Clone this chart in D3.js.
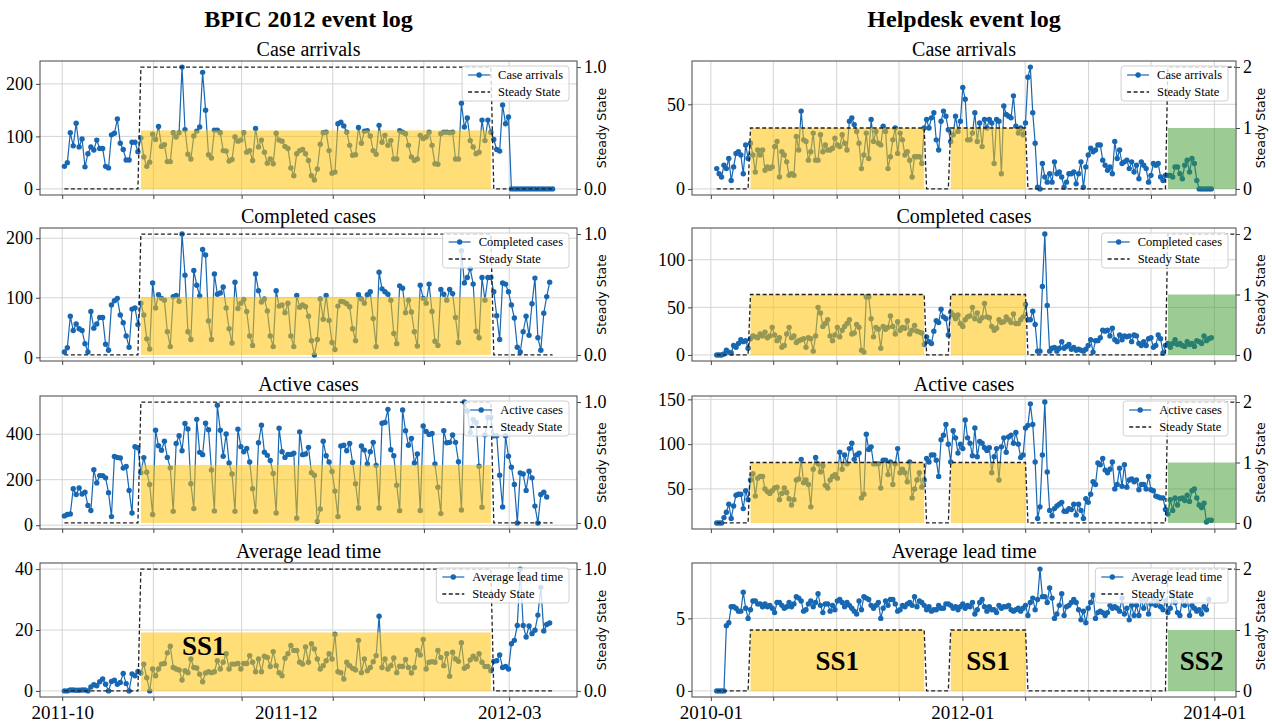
<!DOCTYPE html>
<html>
<head>
<meta charset="utf-8">
<script src="https://cdn.jsdelivr.net/npm/d3@7"></script>
<style>
  body { margin: 0; background: #fff; }
  text { font-family: "Liberation Serif", "Times New Roman", serif; fill: #000; }
</style>
</head>
<body>
<script>
var width = 1272, height = 725;

// ---- BPIC 2012 (daily) ----
var bpicArrivals = [43,50,107,82,125,80,95,42,67,80,74,93,77,77,43,40,103,106,133,87,75,55,55,89,89,71,
  97,61,43,51,104,94,119,81,84,52,52,107,99,107,232,113,66,57,101,110,118,222,150,65,59,112,112,107,73,72,53,56,99,91,93,107,70,73,54,115,80,93,70,49,57,48,106,93,91,81,77,40,25,67,73,
  75,67,54,25,17,38,85,107,108,73,30,32,124,127,120,108,83,64,65,117,87,110,111,101,73,66,121,89,102,83,92,57,57,111,108,105,83,61,54,57,102,96,99,108,83,48,47,105,108,108,107,108,57,57,163,118,135,92,80,67,70,131,92,131,108,94,75,72,160,124,137,
  0,0,0,0,0,0,0,0,0,0,0,0,0,0,0];
var bpicCompleted = [9,16,69,45,56,48,45,23,9,77,49,56,67,67,22,12,88,95,99,71,58,36,17,81,83,55,
  91,71,31,14,125,83,105,99,96,43,18,102,104,94,207,138,43,30,146,121,103,181,172,61,30,140,106,108,118,83,48,24,126,82,91,97,77,36,20,140,112,93,98,78,36,18,112,86,88,75,91,36,18,104,84,88,85,69,28,4,30,98,64,104,62,25,13,86,94,93,90,85,48,28,105,98,91,105,110,65,18,143,115,110,106,96,40,23,120,116,75,96,76,43,19,121,99,91,123,77,27,20,114,106,96,114,107,67,25,179,125,134,149,123,44,33,134,96,134,134,110,
  70,30,125,123,110,88,66,17,9,43,69,37,90,133,33,12,74,102,126];
var bpicActive = [41,47,49,160,135,164,137,145,87,65,244,186,218,218,208,143,38,302,298,295,251,258,153,54,345,340,231,
  297,233,179,47,417,349,329,369,298,252,61,359,393,327,447,423,182,73,465,320,310,448,419,243,63,527,417,303,401,273,225,61,422,345,323,337,278,160,60,362,439,321,307,284,227,54,426,323,298,311,311,316,31,410,310,313,342,231,220,17,71,369,305,278,236,150,38,348,351,327,359,276,182,76,348,330,269,323,364,263,76,448,451,509,332,305,176,64,506,415,351,381,273,313,65,436,412,399,403,269,167,51,415,362,364,396,364,279,67,541,502,407,465,451,259,79,397,473,473,393,393,
  220,80,393,303,255,179,10,230,225,153,237,208,84,10,135,145,124];
var bpicLead = [0,0,0.3,0.3,0.2,0.2,0.3,0.3,0,1.3,2,1.7,3,3.9,2.2,0,3.1,3.5,2.2,2.8,5.7,2.4,0,5.6,5,6.4,
  5.9,8.8,4.3,0,7.2,5,7.2,8.8,9,12.5,14.7,7.7,7.2,6.9,3.6,6.6,6,10.5,7.7,7.5,5.5,3,5.9,6.3,6,6.3,9.9,7.2,9.4,12.2,7.2,8.8,8.8,9,7.2,9,9,11.6,9.4,6.3,10.5,6.3,11.4,11,8,12.9,8.3,6,5,10.7,12.2,14.9,13.3,13.3,9.4,8.8,14.4,9.4,15.5,13.8,10.5,7.2,8.3,9.9,12.2,10.5,18.6,6.3,6,3.9,9.4,8.3,7.4,6.9,16.6,6,10.5,6.6,7.7,9.6,11.6,24.5,7.7,10.5,7.2,8.3,10.8,6,8.1,8,10.3,7.7,5.9,7.7,13.3,11.8,16.9,7.2,9.4,9.6,9.4,13.3,11,8.3,12.2,4.8,12.7,10.5,9.7,15.8,7.4,8,10.2,11.4,10.5,12.2,9.4,8,8,6.6,
  9.7,9.9,11.8,7.7,8,7.2,15.5,16.6,21.5,40,21.5,17.7,21.3,18.8,19.9,24.9,34,19.7,21.8,22.3];
var bpicSteady = [[0, 26], [1, 120], [0, 21]];   // [state, number of days]
var bpicGrid = ["2011-10-01", "2011-11-01", "2011-12-01", "2012-01-01", "2012-02-01", "2012-03-01"];
var bpicLabels = ["2011-10-01", "2011-12-16", "2012-03-01"];

// ---- Helpdesk (weekly) ----
var helpArrivals = [12,9,7,14,12,18,5,13,21,22,20,9,26,18,27,20,10,23,20,23,11,13,12,13,25,28,7,22,20,16,
  8,9,8,31,23,46,29,28,17,22,33,17,17,32,22,26,23,23,24,30,26,25,32,27,23,40,42,38,34,27,
  12,20,33,18,41,28,34,27,26,37,34,12,19,29,36,21,33,29,20,22,17,7,19,19,19,15,36,41,36,42,
  45,29,23,40,46,43,35,28,32,43,34,40,60,53,29,29,33,45,28,39,25,41,36,41,39,15,41,40,9,49,
  44,43,42,55,37,33,36,32,39,66,72,45,27,1,0,15,7,4,9,4,16,9,10,7,1,4,9,9,10,3,
  9,16,1,13,20,24,22,23,26,26,17,14,11,13,9,28,18,23,15,16,17,12,16,10,14,6,16,14,12,4,
  8,15,14,15,7,5,8,8,8,7,13,13,9,6,14,17,10,18,15,5,0,0,0,0,0,0];
var helpCompleted = [0,0,0,1,5,3,2,10,8,12,16,14,15,7,17,20,19,18,22,20,24,18,20,29,21,15,18,8,10,22,
  29,18,20,13,15,16,17,8,18,17,4,20,50,44,30,33,37,20,15,21,29,19,26,30,33,37,22,23,32,29,
  5,3,61,61,38,19,29,27,7,30,27,29,41,30,22,35,26,29,28,36,22,26,31,25,24,23,11,19,14,12,
  25,36,34,48,40,38,21,45,42,38,42,33,30,37,40,41,50,38,44,36,39,54,40,39,30,26,28,37,34,35,
  40,37,34,43,33,33,37,40,53,37,37,46,32,4,4,72,127,52,4,7,8,4,7,14,7,9,11,6,8,5,
  6,5,4,6,10,16,3,15,15,18,26,25,26,20,28,16,14,21,16,20,19,20,14,21,20,12,10,14,10,17,
  18,8,10,21,17,2,10,12,8,12,16,11,12,10,9,14,11,12,9,15,14,12,20,15,17,18];
var helpActive = [12,12,12,18,24,33,17,31,43,44,44,28,48,38,60,67,42,62,64,64,50,47,45,48,51,52,38,45,51,46,
  39,32,38,60,61,83,57,60,55,30,72,85,78,69,76,54,51,60,64,66,62,91,72,88,78,95,101,83,88,90,
  40,44,111,94,97,78,78,78,51,82,82,66,80,55,78,95,68,72,68,58,80,40,50,60,68,52,60,84,80,88,
  88,82,64,105,110,122,100,80,115,107,90,100,95,127,107,101,87,118,86,103,101,96,93,96,68,86,95,60,97,107,
  91,108,110,101,113,100,85,88,118,121,145,122,80,17,30,88,147,69,26,20,28,31,33,35,25,25,28,27,33,21,
  33,26,17,39,35,44,58,55,79,77,84,71,68,72,80,50,55,73,53,77,52,60,61,58,60,49,55,55,50,64,
  49,48,42,41,40,40,27,22,38,26,40,32,39,40,37,43,36,48,50,40,32,29,34,13,15,15];
var helpLead = [0,0,0,0,4.5,4.7,5.8,5.8,5.7,5.5,5.5,6.8,5.7,5.0,5.6,6.2,6.2,6.0,6.0,5.8,
  6.0,5.8,5.9,5.7,5.4,6.1,6.1,5.9,5.7,5.8,6.1,5.8,6.0,6.5,6.4,6.2,5.5,5.6,6.0,6.2,
  5.8,6.1,6.7,5.9,5.4,6.0,6.0,5.5,5.9,5.6,6.2,6.3,6.1,5.8,6.1,5.9,5.7,5.5,5.3,6.2,
  5.6,6.5,6.4,6.3,5.9,5.7,5.9,6.1,5.0,5.7,6.2,5.9,6.3,6.3,6.0,5.5,5.6,5.9,5.8,6.0,
  6.1,5.9,6.5,5.8,6.2,6.1,5.9,5.6,5.8,5.5,5.6,5.6,5.9,5.7,5.7,6.0,6.0,5.9,5.7,5.8,
  5.6,5.8,6.0,5.7,5.9,5.8,6.1,5.3,5.6,6.1,6.3,5.8,5.5,5.8,5.6,5.6,5.4,5.9,5.7,5.8,
  5.8,5.9,5.6,5.5,5.6,5.7,5.5,5.7,5.9,5.2,6.1,6.4,5.6,6.3,8.4,6.5,6.5,6.1,7.1,6.4,
  5.0,5.3,5.9,6.7,5.2,5.8,5.9,6.1,6.3,6.1,5.6,4.9,5.5,4.7,5.7,6.1,6.6,5.0,5.4,5.5,
  5.4,5.2,5.4,5.9,5.7,5.8,5.7,5.5,6.4,5.3,5.7,4.9,5.9,5.2,5.9,5.2,6.3,5.7,6.3,5.3,
  6.0,6.4,5.9,6.2,5.8,5.6,6.2,5.4,5.7,6.6,6.1,5.4,5.2,6.4,5.9,6.5,5.2,5.9,5.7,5.5,
  5.6,5.3,5.8,5.6,6.3];
var helpSteady = [[0, 14], [1, 73], [0, 10], [1, 32], [0, 58], [2, 29]];   // [state, number of weeks]
var helpGrid = ["2010-01-01", "2010-07-01", "2011-01-01", "2011-07-01", "2012-01-01", "2012-07-01", "2013-01-01", "2013-07-01", "2014-01-01"];
var helpLabels = ["2010-01-01", "2012-01-01", "2014-01-01"];

var panelTitles = ["Case arrivals", "Completed cases", "Active cases", "Average lead time"];
var bpicTicks = [[0, 100, 200], [0, 100, 200], [0, 200, 400], [0, 20, 40]];
var helpTicks = [[0, 50], [0, 50, 100], [50, 100, 150], [0, 5]];

// ---- layout ----
var serif = "'Liberation Serif', 'Times New Roman', serif";
var parse = d3.timeParse("%Y-%m-%d");
var rows = [[61, 195], [228, 361], [396, 529], [563, 697]];
var blue = "#1767b2";

var svg = d3.select("body").append("svg")
    .attr("width", width)
    .attr("height", height);

function unrun(runs) {
  var out = [];
  runs.forEach(function (r) { for (var i = 0; i < r[1]; i++) out.push(r[0]); });
  return out;
}

function datesFor(col, n) {
  return d3.range(n).map(function (i) { return d3.timeDay.offset(col.start, i * col.step); });
}

var cols = [
  { id: "b", left: 40, right: 577, title: "BPIC 2012 event log", start: new Date(2011, 9, 1, 18), step: 1,
    series: [bpicArrivals, bpicCompleted, bpicActive, bpicLead], ticks: bpicTicks,
    ss: unrun(bpicSteady), ssTicks: [0, 1], ssFmt: d3.format(".1f"), spanTop: 0.48,
    grid: bpicGrid, labels: bpicLabels, noteAt: 0.18, noteLevel: 0.78 },
  { id: "h", left: 692, right: 1236, title: "Helpdesk event log", start: new Date(2010, 0, 18), step: 7,
    series: [helpArrivals, helpCompleted, helpActive, helpLead], ticks: helpTicks,
    ss: unrun(helpSteady), ssTicks: [0, 1, 2], ssFmt: d3.format("d"), spanTop: 1,
    grid: helpGrid, labels: helpLabels, noteAt: 0.5, noteLevel: 0.5 }
];

cols.forEach(function (col) {
  var d0 = datesFor(col, col.series[0].length);
  var t0 = +d0[0], t1 = +d0[d0.length - 1], pad = (t1 - t0) * 0.05;
  col.x = d3.scaleTime().domain([new Date(t0 - pad), new Date(t1 + pad)]).range([col.left, col.right]);

  svg.append("text")
      .attr("x", (col.left + col.right) / 2)
      .attr("y", 27)
      .attr("text-anchor", "middle")
      .style("font-family", serif)
      .style("font-size", "24px")
      .style("font-weight", "bold")
      .text(col.title);

  col.series.forEach(function (values, r) { drawPanel(col, r, values); });
});

function drawPanel(col, r, values) {
  var top = rows[r][0], bottom = rows[r][1];
  var x = col.x;
  var dates = datesFor(col, values.length);
  var ssDates = datesFor(col, col.ss.length);
  var ext = d3.extent(values), pad = (ext[1] - ext[0]) * 0.05;
  var y = d3.scaleLinear().domain([ext[0] - pad, ext[1] + pad]).range([bottom, top]);
  var ssMax = d3.max(col.ss);
  var y2 = d3.scaleLinear().domain([-0.05 * ssMax, 1.05 * ssMax]).range([bottom, top]);
  var g = svg.append("g");

  var clipId = "clip-" + col.id + r;
  svg.append("clipPath").attr("id", clipId).append("rect")
      .attr("x", col.left).attr("y", top)
      .attr("width", col.right - col.left).attr("height", bottom - top);

  // grid
  g.append("g").selectAll("line").data(col.ticks[r]).join("line")
      .attr("x1", col.left).attr("x2", col.right)
      .attr("y1", function (d) { return y(d); }).attr("y2", function (d) { return y(d); })
      .attr("stroke", "#d4d4d4").attr("stroke-width", 1);
  g.append("g").selectAll("line").data(col.grid).join("line")
      .attr("x1", function (d) { return x(parse(d)); }).attr("x2", function (d) { return x(parse(d)); })
      .attr("y1", top).attr("y2", bottom)
      .attr("stroke", "#d4d4d4").attr("stroke-width", 1);

  var plot = g.append("g").attr("clip-path", "url(#" + clipId + ")");

  // series
  plot.append("path")
      .datum(values)
      .attr("fill", "none")
      .attr("stroke", blue)
      .attr("stroke-width", 1.2)
      .attr("d", d3.line().x(function (d, i) { return x(dates[i]); }).y(function (d) { return y(d); }));
  plot.append("g").selectAll("circle").data(values).join("circle")
      .attr("cx", function (d, i) { return x(dates[i]); })
      .attr("cy", function (d) { return y(d); })
      .attr("r", 2.7)
      .attr("fill", blue);

  // steady state spans
  var spans = [], i = 0;
  while (i < col.ss.length) {
    var j = i;
    while (j + 1 < col.ss.length && col.ss[j + 1] === col.ss[i]) j++;
    if (col.ss[i] > 0) spans.push({ a: i, b: j, v: col.ss[i] });
    i = j + 1;
  }
  plot.append("g").selectAll("rect").data(spans).join("rect")
      .attr("x", function (d) { return x(ssDates[d.a]); })
      .attr("width", function (d) { return x(ssDates[d.b]) - x(ssDates[d.a]); })
      .attr("y", y2(col.spanTop))
      .attr("height", y2(0) - y2(col.spanTop))
      .attr("fill", function (d) { return d.v === 1 ? "#ffc107" : "#3a9a2a"; })
      .attr("fill-opacity", function (d) { return d.v === 1 ? 0.55 : 0.5; });

  plot.append("path")
      .datum(col.ss)
      .attr("fill", "none")
      .attr("stroke", "#222")
      .attr("stroke-width", 1.3)
      .attr("stroke-dasharray", "4,2.5")
      .attr("d", d3.line().x(function (d, i) { return x(ssDates[i]); }).y(function (d) { return y2(d); }));

  // SS labels on the last row
  if (r === 3) {
    plot.append("g").selectAll("text").data(spans).join("text")
        .attr("x", function (d) {
          var xa = x(ssDates[d.a]), xb = x(ssDates[d.b]);
          return xa + (xb - xa) * col.noteAt;
        })
        .attr("y", y2(col.spanTop * col.noteLevel))
        .attr("dy", "0.35em")
        .attr("text-anchor", "middle")
        .style("font-family", serif)
        .style("font-size", "27px")
        .style("font-weight", "bold")
        .text(function (d) { return "SS" + d.v; });
  }

  // axes
  var ax = g.append("g").attr("transform", "translate(" + col.left + ",0)")
      .call(d3.axisLeft(y).tickValues(col.ticks[r]).tickSize(4).tickPadding(3));
  var ax2 = g.append("g").attr("transform", "translate(" + col.right + ",0)")
      .call(d3.axisRight(y2).tickValues(col.ssTicks).tickFormat(col.ssFmt).tickSize(4).tickPadding(3));
  var axb = g.append("g").attr("transform", "translate(0," + bottom + ")")
      .call(d3.axisBottom(x).tickValues(col.grid.map(parse)).tickFormat("").tickSize(4));
  [ax, ax2, axb].forEach(function (a) {
    a.select(".domain").remove();
    a.selectAll("line").attr("stroke", "#444");
    a.selectAll("text").style("font-family", serif).style("font-size", "18px").style("fill", "#000");
  });

  if (r === 3) {
    var lab = g.append("g").attr("transform", "translate(0," + bottom + ")")
        .call(d3.axisBottom(x).tickValues(col.labels.map(parse)).tickFormat(d3.timeFormat("%Y-%m")).tickSize(0).tickPadding(9));
    lab.select(".domain").remove();
    lab.selectAll("text").style("font-family", serif).style("font-size", "19px").style("fill", "#000");
  }

  g.append("text")
      .attr("transform", "translate(" + (col.right + 25) + "," + ((top + bottom) / 2) + ") rotate(-90)")
      .attr("text-anchor", "middle")
      .attr("dy", "0.35em")
      .style("font-family", "'DejaVu Sans', sans-serif")
      .style("font-size", "12.5px")
      .text("Steady State");

  g.append("text")
      .attr("x", (col.left + col.right) / 2)
      .attr("y", top - 5)
      .attr("text-anchor", "middle")
      .style("font-family", serif)
      .style("font-size", "20px")
      .text(panelTitles[r]);

  // frame
  g.append("rect")
      .attr("x", col.left).attr("y", top)
      .attr("width", col.right - col.left).attr("height", bottom - top)
      .attr("fill", "none").attr("stroke", "#444").attr("stroke-width", 1);

  // legend
  var lg = g.append("g");
  var box = lg.append("rect");
  var t1 = lg.append("text").attr("x", 36).attr("y", 9).attr("dy", "0.35em")
      .style("font-family", serif).style("font-size", "12.5px").text(panelTitles[r]);
  var t2 = lg.append("text").attr("x", 36).attr("y", 26).attr("dy", "0.35em")
      .style("font-family", serif).style("font-size", "12.5px").text("Steady State");
  var w = Math.max(t1.node().getComputedTextLength(), t2.node().getComputedTextLength()) + 42;
  box.attr("width", w).attr("height", 35).attr("rx", 3)
      .attr("fill", "#fff").attr("fill-opacity", 0.8)
      .attr("stroke", "#d0d0d0");
  lg.append("line").attr("x1", 6).attr("x2", 28).attr("y1", 9).attr("y2", 9)
      .attr("stroke", blue).attr("stroke-width", 1.2);
  lg.append("circle").attr("cx", 17).attr("cy", 9).attr("r", 2.7).attr("fill", blue);
  lg.append("line").attr("x1", 6).attr("x2", 28).attr("y1", 26).attr("y2", 26)
      .attr("stroke", "#222").attr("stroke-width", 1.3).attr("stroke-dasharray", "4,2.5");
  lg.attr("transform", "translate(" + (col.right - 8 - w) + "," + (top + 5) + ")");
}
</script>
</body>
</html>
